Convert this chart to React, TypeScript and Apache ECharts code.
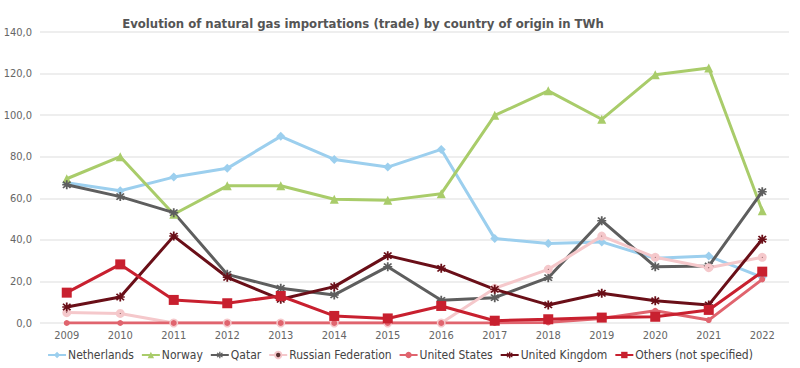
import React, { useEffect, useRef } from "react";
import * as echarts from "echarts";

const years = ["2009","2010","2011","2012","2013","2014","2015","2016","2017","2018","2019","2020","2021","2022"];
const netherlands = [67.5, 63.6, 70.2, 74.4, 89.8, 78.7, 75.0, 83.5, 40.6, 38.3, 39.0, 31.1, 32.2, 22.0];
const norway = [69.4, 80.0, 52.3, 66.0, 66.0, 59.5, 59.0, 62.2, 99.9, 111.7, 98.0, 119.4, 122.7, 54.0];
const qatar = [66.5, 60.8, 53.1, 23.4, 16.7, 13.5, 27.1, 10.9, 12.2, 21.8, 49.2, 27.1, 27.4, 63.2];
const russia = [5.0, 4.6, 0, 0, 0, 0, 0, 0, 16.7, 25.8, 41.8, 31.6, 26.6, 31.6];
const unitedStates = [0, 0, 0, 0, 0, 0, 0, 0, 0, 0.3, 2.2, 5.9, 1.4, 21.0];
const unitedKingdom = [7.7, 12.5, 41.8, 22.0, 11.4, 17.5, 32.4, 26.3, 16.2, 8.7, 14.3, 10.7, 8.7, 40.3];
const others = [14.6, 28.2, 11.1, 9.5, 13.0, 3.4, 2.2, 8.2, 1.1, 1.8, 2.6, 3.0, 6.3, 24.7];
const yTicks = { min: 0, max: 140, interval: 20 };

const FONT = "'Liberation Sans Narrow', 'DejaVu Sans Condensed', 'Open Sans', sans-serif";
const STAR = "path://M4,0 L6,0 L6,3.6 L8.5,1.1 L9.9,2.5 L7.4,5 L10,5 L10,7 L7.4,7 L9.9,9.5 L8.5,10.9 L6,8.4 L6,12 L4,12 L4,8.4 L1.5,10.9 L0.1,9.5 L2.6,7 L0,7 L0,5 L2.6,5 L0.1,2.5 L1.5,1.1 L4,3.6 Z";

export default function App() {
  const ref = useRef<HTMLDivElement>(null);
  useEffect(() => {
    const chart = echarts.init(ref.current!, null, { renderer: "svg" });
    const mk = (name: string, data: number[], color: string, symbol: string, size: number, extra: any = {}) => ({
      name,
      type: "line",
      data,
      symbol,
      symbolSize: size,
      lineStyle: { color, width: 3 },
      itemStyle: { color },
      ...extra,
    });
    chart.setOption({
      animation: false,
      title: {
        text: "Evolution of natural gas importations (trade) by country of origin in TWh",
        left: 358,
        textAlign: "center",
        top: 12,
        textStyle: { fontFamily: FONT, fontSize: 13, fontWeight: "bold", color: "#555555" },
      },
      grid: { left: 40, right: 11, top: 32, bottom: 45, containLabel: false },
      legend: {
        bottom: 2,
        left: "center",
        itemWidth: 18,
        itemHeight: 8,
        itemGap: 7,
        textStyle: { fontFamily: FONT, fontSize: 12, color: "#444444", padding: [0, 0, 0, -3] },
      },
      xAxis: {
        type: "category",
        data: years,
        boundaryGap: true,
        axisLine: { show: false },
        axisTick: { show: false },
        axisLabel: { fontFamily: FONT, fontSize: 11, color: "#666666", margin: 7 },
      },
      yAxis: {
        type: "value",
        min: yTicks.min,
        max: yTicks.max,
        interval: yTicks.interval,
        axisLine: { show: false },
        axisTick: { show: false },
        splitLine: { lineStyle: { color: "#e8e8e8", width: 1.5 } },
        axisLabel: {
          fontFamily: FONT,
          fontSize: 11,
          color: "#666666",
          margin: 8,
          formatter: (v: number) => v.toFixed(1).replace(".", ","),
        },
      },
      series: [
        mk("Netherlands", netherlands, "#9ccfee", "diamond", 9),
        mk("Norway", norway, "#a9cc6a", "triangle", 9),
        mk("Qatar", qatar, "#5e5e5e", STAR, 9),
        mk("Russian Federation", russia, "#f5c8cb", "circle", 5, {
          itemStyle: { color: "#5a3030", borderColor: "#f5c8cb", borderWidth: 4 },
        }),
        mk("United States", unitedStates, "#e0646e", "circle", 6),
        mk("United Kingdom", unitedKingdom, "#6a0f18", STAR, 9),
        mk("Others (not specified)", others, "#c8202f", "rect", 10),
      ],
    });
    return () => chart.dispose();
  }, []);
  return <div ref={ref} style={{ width: 800, height: 368, position: "absolute", left: 0, top: 0 }} />;
}
